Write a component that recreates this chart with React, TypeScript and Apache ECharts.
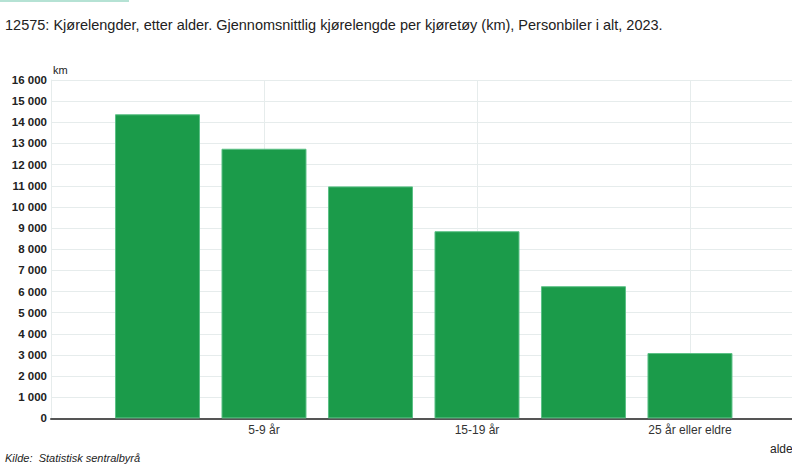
import { useEffect, useRef } from "react";
import * as echarts from "echarts";

const ageGroups = ["0-4 år", "5-9 år", "10-14 år", "15-19 år", "20-24 år", "25 år eller eldre"];
const kmPerVehicle = [14380, 12750, 10970, 8850, 6250, 3090];
const yTicks = { min: 0, max: 16000, step: 1000 };

const TITLE =
  "12575: Kjørelengder, etter alder. Gjennomsnittlig kjørelengde per kjøretøy (km), Personbiler i alt, 2023.";

export default function App() {
  const chartRef = useRef<HTMLDivElement>(null);

  useEffect(() => {
    if (!chartRef.current) return;
    document.body.style.margin = "0";

    const chart = echarts.init(chartRef.current, undefined, { renderer: "svg" });

    // age groups sit at positions 1..6 on a numeric axis; the axis runs on
    // past the last group to the right edge, like the original
    const points = kmPerVehicle.map((v, i) => [i + 1, v]);

    const font = "Arial, 'Liberation Sans', sans-serif";

    chart.setOption({
      animation: false,
      textStyle: { fontFamily: font },
      grid: { left: 51, top: 80, right: 0, height: 338.4 },
      graphic: [
        {
          type: "rect",
          shape: { x: 0, y: 0, width: 129, height: 2 },
          style: { fill: "#b5e2d4" },
        },
        {
          type: "text",
          x: 5,
          y: 17,
          style: { text: TITLE, font: `14.5px ${font}`, fill: "#222" },
        },
        {
          type: "text",
          x: 53,
          y: 64,
          style: { text: "km", font: `11px ${font}`, fill: "#222" },
        },
        {
          type: "text",
          x: 5,
          y: 452,
          style: {
            text: "Kilde:  Statistisk sentralbyrå",
            font: `italic 11px ${font}`,
            fill: "#222",
          },
        },
        {
          type: "text",
          x: 770,
          y: 443,
          style: { text: "alder", font: `12px ${font}`, fill: "#222" },
        },
      ],
      xAxis: {
        type: "value",
        min: 0,
        max: 6.958,
        interval: 2,
        axisLine: { show: true, onZero: false, lineStyle: { color: "#555", width: 2 } },
        axisTick: { show: false },
        axisLabel: {
          color: "#333",
          fontSize: 12,
          margin: 6,
          showMinLabel: false,
          showMaxLabel: false,
          formatter: (v: number) => ageGroups[v - 1] ?? "",
        },
        splitLine: {
          show: true,
          lineStyle: { color: "#e6ecec", width: 1 },
        },
      },
      yAxis: {
        type: "value",
        min: yTicks.min,
        max: yTicks.max,
        interval: yTicks.step,
        axisLine: { show: true, lineStyle: { color: "#e6ecec" } },
        axisTick: { show: false },
        axisLabel: {
          color: "#222",
          fontSize: 11.5,
          fontWeight: "bold",
          margin: 4,
          formatter: (v: number) => v.toString().replace(/\B(?=(\d{3})+(?!\d))/g, " "),
        },
        splitLine: { lineStyle: { color: "#e6ecec", width: 1 } },
      },
      series: [
        {
          type: "bar",
          data: points,
          barWidth: 85,
          itemStyle: {
            color: "#1b9b4a",
            borderColor: "#5cc086",
            borderWidth: 1,
          },
        },
      ],
    });

    return () => {
      chart.dispose();
    };
  }, []);

  return <div ref={chartRef} style={{ width: 792, height: 465 }} />;
}
